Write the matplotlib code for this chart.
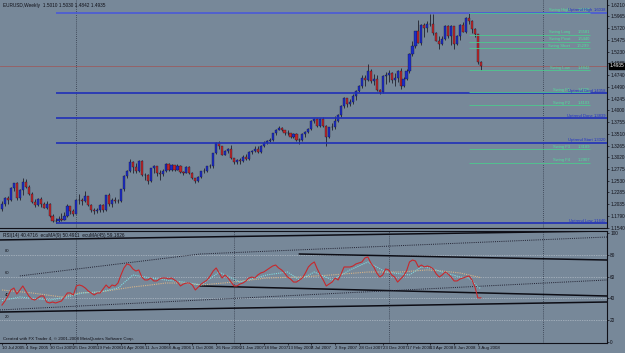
import matplotlib
matplotlib.use("Agg")
import matplotlib.pyplot as plt
from matplotlib.patches import Rectangle

plt.rcParams["font.family"] = ["Liberation Sans Narrow", "Liberation Sans", "DejaVu Sans"]

# ---------------- data ----------------
first_open = 1.1930
closes = [1.2040,1.2160,1.2125,1.2375,1.2480,1.2160,1.2340,1.2510,1.2400,1.2250,
 1.2090,1.2025,1.2150,1.2050,1.1965,1.2050,1.1790,1.1690,1.1680,1.1730,
 1.1705,1.1790,1.2000,1.1890,1.1840,1.2130,1.2120,1.2100,1.2200,1.2015,
 1.1910,1.1890,1.1910,1.2030,1.1910,1.2230,1.2040,1.2120,1.2110,1.2100,
 1.2350,1.2630,1.2730,1.2920,1.2810,1.2730,1.2950,1.2640,1.2640,1.2530,
 1.2790,1.2830,1.2680,1.2670,1.2740,1.2880,1.2750,1.2860,1.2760,1.2840,
 1.2710,1.2690,1.2820,1.2680,1.2580,1.2530,1.2610,1.2730,1.2730,1.2830,
 1.2830,1.3100,1.3310,1.3250,1.3070,1.3150,1.3200,1.3000,1.2920,1.2960,
 1.2940,1.3030,1.2990,1.3130,1.3150,1.3190,1.3120,1.3250,1.3320,1.3350,
 1.3390,1.3520,1.3600,1.3640,1.3590,1.3520,1.3520,1.3450,1.3500,1.3380,
 1.3380,1.3510,1.3540,1.3620,1.3780,1.3830,1.3680,1.3830,1.3680,1.3450,
 1.3650,1.3660,1.3770,1.3900,1.4100,1.4260,1.4140,1.4180,1.4300,1.4410,
 1.4500,1.4680,1.4630,1.4830,1.4620,1.4650,1.4420,1.4380,1.4720,1.4750,
 1.4780,1.4640,1.4680,1.4820,1.4500,1.4660,1.4820,1.5180,1.5350,1.5660,
 1.5420,1.5790,1.5730,1.5800,1.5810,1.5620,1.5460,1.5380,1.5500,1.5760,
 1.5550,1.5760,1.5380,1.5550,1.5780,1.5650,1.5930,1.5870,1.5700,1.5590,
 1.5010,1.4935]
highs = [1.2110,1.2180,1.2200,1.2400,1.2490,1.2500,1.2350,1.2586,1.2560,1.2430,
 1.2300,1.2140,1.2170,1.2180,1.2090,1.2110,1.2060,1.1830,1.1740,1.1800,
 1.1850,1.1870,1.2040,1.2000,1.1940,1.2140,1.2250,1.2160,1.2323,1.2210,
 1.2040,1.1950,1.1960,1.2050,1.2040,1.2240,1.2270,1.2160,1.2190,1.2150,
 1.2360,1.2640,1.2760,1.2979,1.2940,1.2890,1.2970,1.2960,1.2680,1.2660,
 1.2800,1.2850,1.2840,1.2760,1.2780,1.2890,1.2900,1.2880,1.2860,1.2870,
 1.2850,1.2740,1.2830,1.2830,1.2720,1.2590,1.2630,1.2740,1.2790,1.2840,
 1.2880,1.3110,1.3330,1.3367,1.3260,1.3180,1.3220,1.3280,1.3010,1.2990,
 1.3000,1.3070,1.3080,1.3150,1.3180,1.3250,1.3260,1.3270,1.3350,1.3390,
 1.3420,1.3530,1.3620,1.3680,1.3660,1.3600,1.3580,1.3530,1.3520,1.3530,
 1.3420,1.3520,1.3560,1.3640,1.3790,1.3850,1.3840,1.3840,1.3860,1.3690,
 1.3660,1.3740,1.3880,1.3930,1.4110,1.4280,1.4260,1.4240,1.4350,1.4420,
 1.4530,1.4750,1.4730,1.4967,1.4870,1.4760,1.4750,1.4440,1.4740,1.4810,
 1.4850,1.4800,1.4780,1.4840,1.4880,1.4690,1.4860,1.5190,1.5460,1.5670,
 1.5900,1.5810,1.5830,1.5860,1.6018,1.6010,1.5640,1.5560,1.5560,1.5780,
 1.5790,1.5790,1.5770,1.5570,1.5810,1.5850,1.5960,1.6038,1.5890,1.5720,
 1.5600,1.5030]
lows = [1.1900,1.2000,1.2050,1.2100,1.2310,1.2130,1.2120,1.2220,1.2380,1.2230,
 1.2060,1.1980,1.1990,1.1980,1.1950,1.1940,1.1780,1.1660,1.1640,1.1660,
 1.1690,1.1700,1.1770,1.1830,1.1800,1.1830,1.2040,1.2030,1.2090,1.2000,
 1.1880,1.1830,1.1850,1.1880,1.1880,1.1900,1.2000,1.1980,1.2060,1.2070,
 1.2090,1.2310,1.2580,1.2710,1.2690,1.2690,1.2710,1.2620,1.2550,1.2460,
 1.2500,1.2700,1.2620,1.2540,1.2620,1.2710,1.2740,1.2740,1.2740,1.2750,
 1.2700,1.2650,1.2680,1.2660,1.2560,1.2480,1.2510,1.2590,1.2690,1.2720,
 1.2790,1.2800,1.3090,1.3190,1.3060,1.3060,1.3110,1.2990,1.2880,1.2870,
 1.2880,1.2920,1.2970,1.2960,1.3080,1.3120,1.3110,1.3100,1.3240,1.3300,
 1.3330,1.3360,1.3490,1.3580,1.3570,1.3490,1.3480,1.3420,1.3420,1.3360,
 1.3300,1.3360,1.3440,1.3530,1.3600,1.3740,1.3650,1.3660,1.3650,1.3260,
 1.3420,1.3580,1.3620,1.3760,1.3870,1.4060,1.4070,1.4090,1.4130,1.4220,
 1.4380,1.4470,1.4500,1.4620,1.4580,1.4540,1.4400,1.4345,1.4360,1.4560,
 1.4600,1.4570,1.4500,1.4600,1.4440,1.4480,1.4640,1.4780,1.5130,1.5310,
 1.5410,1.5360,1.5530,1.5630,1.5770,1.5570,1.5450,1.5290,1.5370,1.5470,
 1.5510,1.5360,1.5290,1.5360,1.5470,1.5640,1.5620,1.5810,1.5620,1.5530,
 1.4960,1.4842]

rsi = [33.9,37.6,42.2,47.7,49.5,44.0,47.7,51.4,46.8,42.2,
 39.4,38.5,40.4,42.2,42.2,36.7,35.8,36.7,35.8,36.7,
 37.6,41.3,45.0,45.0,43.1,51.4,52.3,51.4,49.5,46.8,
 45.0,43.1,45.0,45.0,48.6,52.3,49.5,52.3,51.4,54.1,
 61.5,67.9,71.6,70.6,67.0,65.1,66.1,59.6,56.9,56.9,
 58.7,56.0,56.0,57.8,58.7,58.7,57.8,58.7,56.9,55.0,
 51.4,53.2,54.1,54.1,52.3,47.7,50.5,53.2,55.0,56.9,
 60.6,65.1,67.9,63.3,58.7,61.5,58.7,55.0,51.4,51.4,
 53.2,54.1,56.0,58.7,59.6,58.7,61.5,63.3,64.2,66.1,
 67.9,69.7,70.6,67.9,66.1,63.3,59.6,57.8,55.0,55.0,
 56.9,58.7,63.3,68.8,71.6,73.4,67.0,61.5,56.9,51.4,
 53.2,55.0,58.7,56.9,62.4,68.8,68.8,68.8,69.7,71.6,
 72.5,73.4,77.1,78.0,72.5,68.8,63.3,59.6,61.5,67.0,
 66.1,61.5,59.6,55.0,57.8,60.6,65.1,73.4,75.2,74.3,
 68.8,70.6,68.8,69.7,68.8,67.0,62.4,59.6,61.5,64.2,
 62.4,59.6,56.0,56.0,57.8,58.7,59.6,60.6,56.9,50.5,
 40.4,40.5]

ma_fast_idx = [0, 6, 16, 22, 27, 33, 39, 44, 50, 55, 61, 67, 73, 80, 89, 96, 100,
               105, 111, 117, 123, 129, 137, 141, 144, 148, 154, 157, 160, 161]
ma_fast_val = [38.0, 41.3, 38.5, 41.3, 45.0, 45.9, 49.5, 61.5, 58.7, 56.9, 55.0, 52.3,
               64.2, 55.0, 61.5, 64.2, 56.9, 64.2, 56.9, 66.1, 73.4, 64.2, 61.5, 68.8,
               67.9, 64.2, 59.6, 58.7, 50.5, 49.0]
ma_slow_idx = [0, 10, 20, 26, 33, 44, 50, 55, 61, 67, 78, 89, 100, 111, 123, 134,
               143, 148, 154, 161]
ma_slow_val = [47.7, 45.0, 41.3, 45.0, 45.9, 50.5, 52.3, 54.1, 54.1, 52.3, 55.0, 58.7,
               59.6, 61.5, 64.2, 64.2, 66.1, 65.1, 63.3, 59.0]

date_labels = ["10 Jul 2005", "4 Sep 2005", "30 Oct 2005", "25 Dec 2005", "19 Feb 2006",
               "16 Apr 2006", "11 Jun 2006", "6 Aug 2006", "1 Oct 2006", "26 Nov 2006",
               "21 Jan 2007", "18 Mar 2007", "13 May 2007", "8 Jul 2007", "2 Sep 2007",
               "28 Oct 2007", "23 Dec 2007", "17 Feb 2008", "13 Apr 2008", "8 Jun 2008",
               "3 Aug 2008"]
date_idx = [0, 8, 16, 24, 32, 40, 48, 56, 64, 72, 80, 88, 96, 104, 112, 120, 128,
            136, 144, 152, 160]

price_ticks = [1.1540, 1.1790, 1.2035, 1.2285, 1.2530, 1.2775, 1.3020, 1.3265, 1.3510,
               1.3755, 1.4000, 1.4245, 1.4490, 1.4740, 1.4985, 1.5230, 1.5475, 1.5720,
               1.5965, 1.6210]
rsi_ticks = [0, 20, 40, 60, 80, 100]
rsi_levels = [20, 40, 60, 80]
year_sep_main_idx = [25, 182]
year_sep_rsi_idx = [25, 78, 130, 182]

uptrend_names = ["Uptrend High", "Uptrend Grnd", "Uptrend Done", "Uptrend Start", "Uptrend Low"]
uptrend_vals = [1.6038, 1.4358, 1.3839, 1.3320, 1.1640]
uptrend_start_idx = 18
swing_names = ["Swing High", "Swing Long", "Swing Pivot", "Swing Short", "Swing Low",
               "Swing F1", "Swing F2", "Swing F3", "Swing F4"]
swing_vals = [1.6038, 1.5581, 1.5440, 1.5299, 1.4842, 1.4385, 1.4103, 1.3189, 1.2907]
swing_start_idx = 157
swing_end_idx = 197.6
last_price = 1.4935

# RSI-window trend lines: (idx0, rsi0, idx1, rsi1)
rsi_solid_lines = [(-0.7, 93.6, 203.4, 101.8),
                   (100.0, 80.7, 203.4, 75.2),
                   (66.6, 51.4, 203.4, 42.2),
                   (-0.7, 27.5, 203.4, 36.7)]
rsi_dotted_lines = [(66.6, 80.7, 203.4, 96.3),
                    (6.0, 60.6, 66.6, 80.7),
                    (-0.7, 29.4, 203.4, 56.9)]

# ---------------- drawing ----------------
W, H = 625, 353
BG = "#778899"
INK = "#101018"
FS = 3.4
fig = plt.figure(figsize=(W / 100, H / 100), dpi=100, facecolor=BG)

def fx(px):
    return px / W

def fy(py):
    return 1 - py / H

XL = (-0.67, 203.4)
ax = fig.add_axes([0, fy(228), fx(607), 228 / H], facecolor=BG)
axr = fig.add_axes([0, fy(343), fx(607), (343 - 231) / H], facecolor=BG)
for a in (ax, axr):
    a.set_xlim(*XL)
    for s in ("left", "top"):
        a.spines[s].set_visible(False)
    a.spines["right"].set_color(INK)
    a.spines["bottom"].set_color(INK)
    a.spines["right"].set_linewidth(0.8)
    a.spines["bottom"].set_linewidth(0.8)
    a.yaxis.tick_right()
    a.tick_params(axis="y", direction="out", length=1.5, width=0.5, labelsize=FS,
                  pad=0.8, colors=INK)
axr.spines["top"].set_visible(True)
axr.spines["top"].set_color(INK)
axr.spines["top"].set_linewidth(0.8)

ax.set_ylim(1.1564, 1.6309)
axr.set_ylim(-0.9, 101.8)

# separators
for xi in year_sep_main_idx:
    ax.axvline(xi, color="#303848", lw=0.6, ls=(0, (1, 1.5)), zorder=1)
for xi in year_sep_rsi_idx:
    axr.axvline(xi, color="#303848", lw=0.6, ls=(0, (1, 1.5)), zorder=1)

# candles
opens = [first_open] + closes[:-1]
for i, (o, h, l, c) in enumerate(zip(opens, highs, lows, closes)):
    col = "#1c2cc8" if c >= o else "#c02626"
    ax.vlines(i, min(l, o, c), max(h, o, c), color="#20202c", lw=0.6, zorder=3)
    bot = min(o, c)
    hgt = max(abs(c - o), 0.0006)
    ax.add_patch(Rectangle((i - 0.36, bot), 0.72, hgt, facecolor=col,
                           edgecolor="#151530", lw=0.25, zorder=4))

# price line
ax.axhline(last_price, color="#9a5c60", lw=0.6, zorder=2)

# uptrend levels (blue)
for name, v in zip(uptrend_names, uptrend_vals):
    c = "#4a5ad8" if name == "Uptrend High" else "#2030b8"
    ax.hlines(v, uptrend_start_idx, XL[1], color=c, lw=1.2, zorder=5)
# swing levels (green)
for name, v in zip(swing_names, swing_vals):
    ax.hlines(v, swing_start_idx, swing_end_idx, color="#4cc98e", lw=0.6, zorder=5)
    ax.text(191.0, v + 0.001, name, color="#52e09c", fontsize=3.0, ha="right",
            va="bottom", zorder=6)
    ax.text(swing_end_idx, v + 0.001, f"{v:.4f}", color="#52e09c", fontsize=3.0,
            ha="right", va="bottom", zorder=6)
for name, v in zip(uptrend_names, uptrend_vals):
    ax.text(198.6, v + 0.001, name, color="#2030c8", fontsize=3.0, ha="right",
            va="bottom", zorder=7)
    ax.text(203.2, v + 0.001, f"{v:.4f}", color="#2030c8", fontsize=3.0, ha="right",
            va="bottom", zorder=7)

ax.set_yticks(price_ticks)
ax.set_yticklabels([f"{t:.4f}" for t in price_ticks])
ax.set_xticks([])
ax.text(1.004, last_price, f"{last_price:.4f}", transform=ax.get_yaxis_transform(),
        fontsize=FS, color="white", va="center", ha="left", zorder=10,
        bbox=dict(boxstyle="square,pad=0.12", fc="black", ec="black"), clip_on=False)

# RSI window
for lv in rsi_levels:
    axr.axhline(lv, color="#c8d0d8", lw=0.5, ls=(0, (1, 1.5)), zorder=1)
    axr.text(1, lv + 1.5, str(lv), fontsize=3.0, color=INK, ha="left", va="bottom")
for (x0, y0, x1, y1) in rsi_solid_lines:
    axr.plot([x0, x1], [y0, y1], color="#0c0c14", lw=1.1, zorder=2)
for (x0, y0, x1, y1) in rsi_dotted_lines:
    axr.plot([x0, x1], [y0, y1], color="#202030", lw=0.7, ls=(0, (1, 1.2)), zorder=2)
axr.plot(ma_slow_idx, ma_slow_val, color="#d8b488", lw=0.8, ls=(0, (1, 1)), zorder=3)
axr.plot(ma_fast_idx, ma_fast_val, color="#7fdde0", lw=0.8, ls=(0, (1, 1)), zorder=3)
axr.plot(range(len(rsi)), rsi, color="#c8282c", lw=0.8, zorder=4)
axr.set_yticks(rsi_ticks)
axr.set_yticklabels([str(t) for t in rsi_ticks])

axr.set_xticks(date_idx)
axr.set_xticklabels(date_labels)
axr.tick_params(axis="x", direction="out", length=1.5, width=0.5, labelsize=3.2, pad=0.5,
                colors=INK)
for lab in axr.get_xticklabels():
    lab.set_horizontalalignment("left")

# texts
fig.text(fx(3), fy(6), "EURUSD,Weekly  1.5010 1.5030 1.4842 1.4935", fontsize=FS,
         color=INK, va="center", ha="left")
fig.text(fx(3), fy(236), "RSI(14) 40.4716  ecuMA(9) 50.4911  ecuMA(45) 59.1826",
         fontsize=FS, color=INK, va="center", ha="left")
fig.text(fx(3), fy(339), "Created with FX Trader 4, \u00a9 2001-2008 MetaQuotes Software Corp.",
         fontsize=3.2, color=INK, va="center", ha="left")

fig.savefig("out.png", dpi=100, facecolor=BG)
